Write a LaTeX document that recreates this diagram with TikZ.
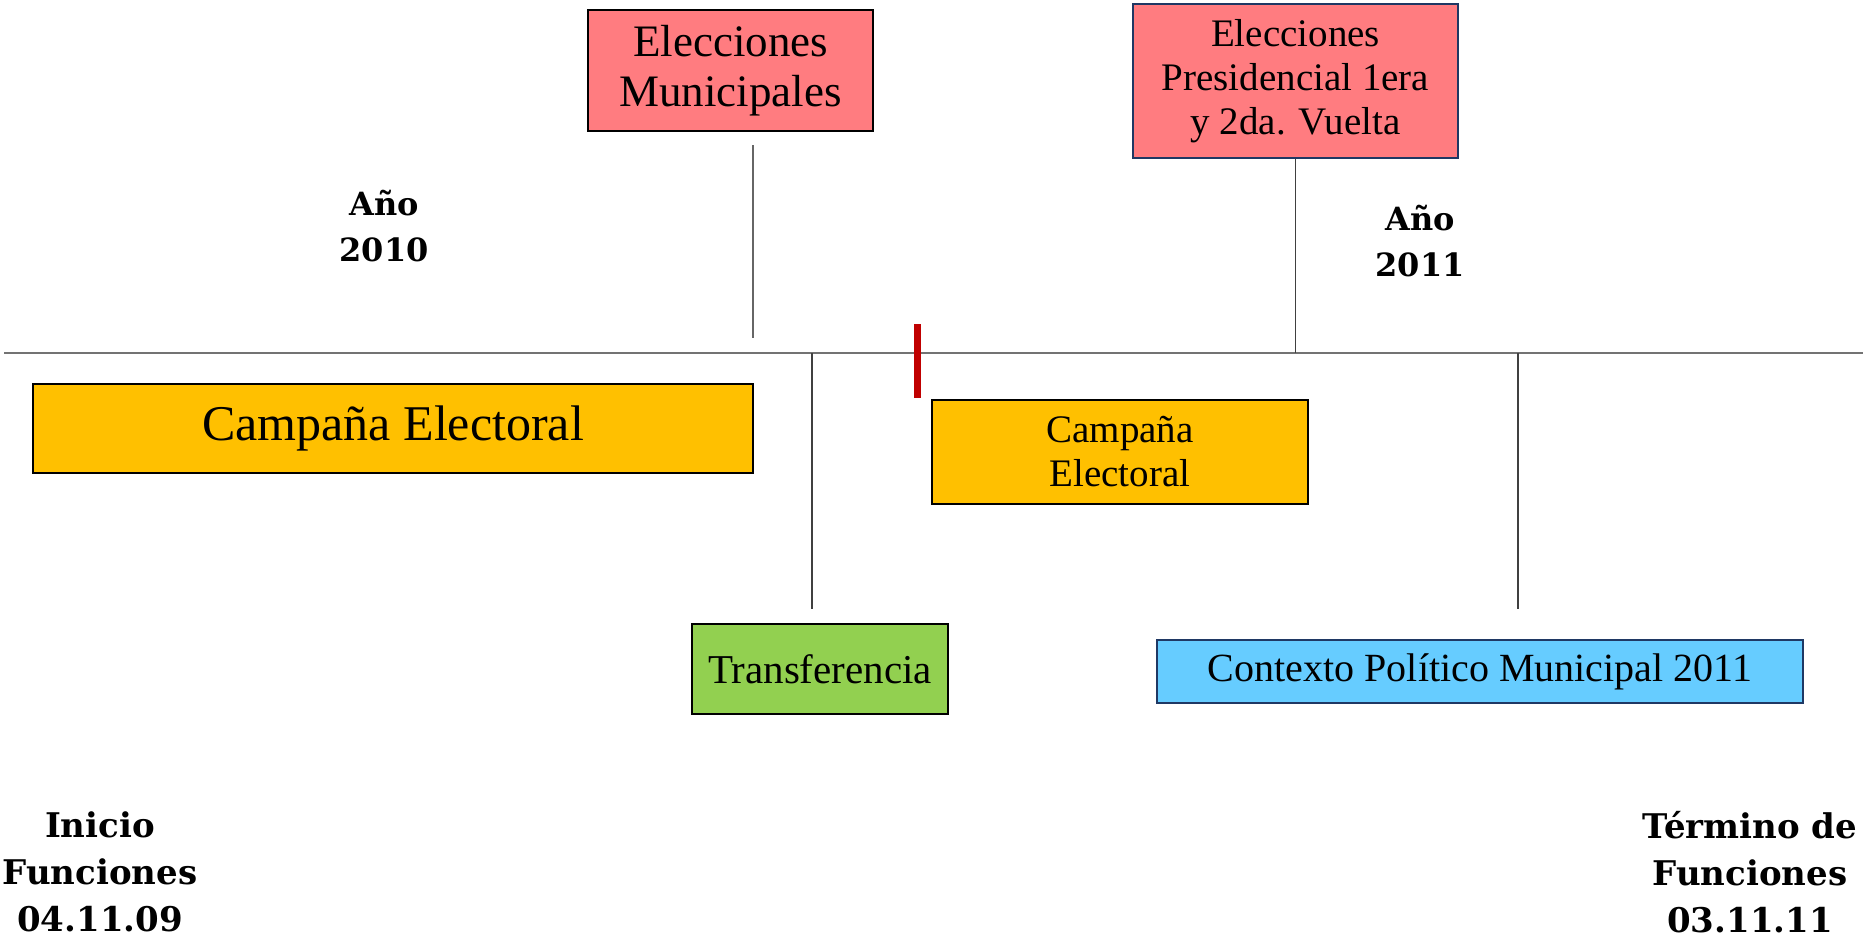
\documentclass[tikz,border=0pt]{standalone}
\usepackage{fontspec}
\setmainfont{Liberation Serif}
\newfontfamily\labfont{DejaVu Serif}
\definecolor{rosa}{HTML}{FF7C80}
\definecolor{oro}{HTML}{FFC000}
\definecolor{verde}{HTML}{92D050}
\definecolor{celeste}{HTML}{66CCFF}
\definecolor{marino}{HTML}{1F3864}
\definecolor{rojo}{HTML}{C00000}
\begin{document}
\begin{tikzpicture}[x=1pt, y=-1pt,
  caja/.style={draw=black, line width=2pt, inner sep=0pt, align=center},
  marca/.style={draw=black!75, line width=1.3pt},
  anio/.style={align=center, font=\labfont\bfseries\fontsize{32}{46}\selectfont}]
\useasboundingbox (0,0) rectangle (1865,945);
% eje de tiempo
\coordinate (axL) at (4,353);
\coordinate (axR) at (1863,353);
\draw [black!55, line width=1.5pt] (axL) -- (axR);
% elecciones
\node [caja, fill=rosa, minimum width=285, minimum height=121,
  font=\fontsize{45}{50}\selectfont] (munic) at (730.5,70.5) {Elecciones\\Municipales};
\node [caja, fill=rosa, draw=marino, minimum width=325, minimum height=154,
  font=\fontsize{39}{44}\selectfont] (presid) at (1295.5,81) {Elecciones\\Presidencial 1era\\y 2da. Vuelta};
\coordinate (m1) at (753,145);
\coordinate (m2) at (753,338);
\draw [marca, draw=black!60] (m1) -- (m2);
\draw [marca] (presid.south) -- (presid.south |- axL);
% campañas
\node [caja, fill=oro, minimum width=720, minimum height=89,
  font=\fontsize{50}{56}\selectfont] (camp1) at (393,428.5) {Campaña Electoral};
\node [caja, fill=oro, minimum width=376, minimum height=104,
  font=\fontsize{39}{44}\selectfont] (camp2) at (1120,452) {Campaña\\Electoral};
\draw [rojo, line width=7pt] (917,324) -- (917,398);
% transferencia y contexto
\coordinate (t1) at (812,353);
\coordinate (t2) at (812,609);
\coordinate (c1) at (1518,353);
\coordinate (c2) at (1518,609);
\draw [marca] (t1) -- (t2);
\draw [marca] (c1) -- (c2);
\node [caja, fill=verde, minimum width=256, minimum height=90,
  font=\fontsize{41}{46}\selectfont] (transf) at (820,669) {Transferencia};
\node [caja, fill=celeste, draw=marino, minimum width=646, minimum height=63,
  font=\fontsize{40}{46}\selectfont] (contexto) at (1480,671.5) {Contexto Político Municipal 2011};
% años y fechas
\node [anio] (a2010) at (384,226) {Año\\2010};
\node [anio] (a2011) at (1420,241) {Año\\2011};
\node [anio, font=\labfont\bfseries\fontsize{34}{47}\selectfont] (inicio) at (100,872) {Inicio\\Funciones\\04.11.09};
\node [anio, font=\labfont\bfseries\fontsize{34}{47}\selectfont] (termino) at (1750,872) {Término de\\Funciones\\03.11.11};
\end{tikzpicture}
\end{document}
